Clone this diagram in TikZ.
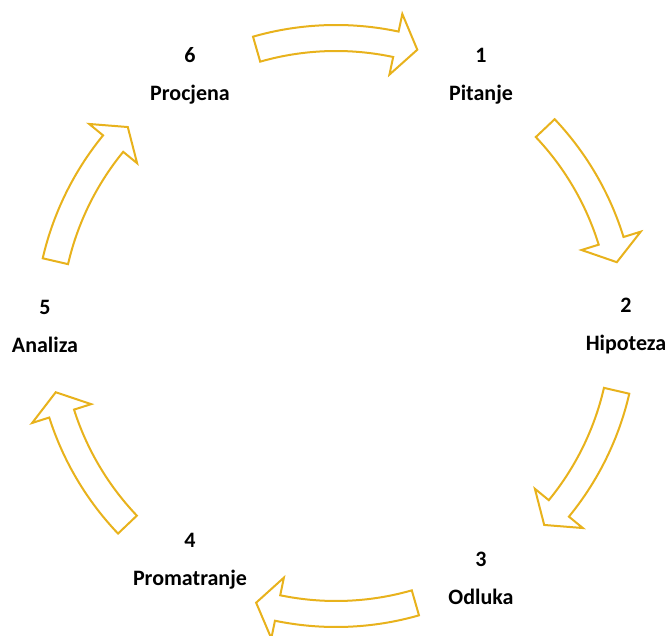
\documentclass[tikz,border=0pt]{standalone}
\usepackage{fontspec}
\setmainfont{Carlito}
\usetikzlibrary{positioning}

\definecolor{arrowgold}{RGB}{232,178,28}

% hollow curved arrow around the cycle, #1 = angle of the tail, #2 = angle of the tip
\newcommand{\cyclearrow}[2]{%
  \draw[cyclearrow] ({#1}:301pt) arc[start angle={#1}, end angle={#2+4.4}, radius=301pt]
    -- ({#2+4.4}:319pt) -- ({#2}:288pt) -- ({#2+4.4}:257pt) -- ({#2+4.4}:275pt)
    arc[start angle={#2+4.4}, end angle={#1}, radius=275pt] -- cycle;}

\begin{document}
\begin{tikzpicture}[
        cyclearrow/.style={draw=arrowgold,line width=2pt,line join=miter,fill=white},
        stage/.style={align=center,font=\bfseries\fontsize{22}{38}\selectfont,inner sep=0pt}]

  \useasboundingbox (-336pt,-309pt) rectangle (335pt,326pt);

  \node[stage] (pitanje)     at (145pt,250pt)  {1\\Pitanje};
  \node[stage] (hipoteza)    at (290pt,0pt)    {2\\Hipoteza};
  \node[stage] (odluka)      at (145pt,-252pt) {3\\Odluka};
  \node[stage] (promatranje) at (-146pt,-235pt) {4\\Promatranje};
  \node[stage] (analiza)     at (-291pt,0pt)   {5\\Analiza};
  \node[stage] (procjena)    at (-146pt,250pt) {6\\Procjena};

  \cyclearrow{106}{73.6}
  \cyclearrow{43.4}{12.8}
  \cyclearrow{-13}{-43.7}
  \cyclearrow{-74}{-106.1}
  \cyclearrow{-136.4}{-166.7}
  \cyclearrow{167}{136.3}

\end{tikzpicture}
\end{document}
